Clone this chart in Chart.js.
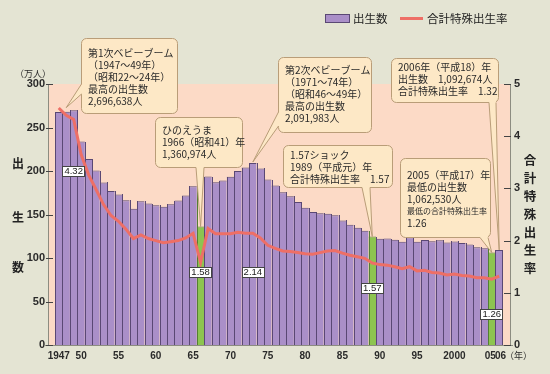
<!DOCTYPE html>
<html>
<head>
<meta charset="utf-8">
<script src="https://cdn.jsdelivr.net/npm/chart.js@4"></script>
<style>
  html, body { margin: 0; padding: 0; background: #e4e4d3; }
  #wrap { width: 550px; height: 374px; }
</style>
</head>
<body>
<div id="wrap"><canvas id="birthChart" width="550" height="374"></canvas></div>
<script>
// years 1947-2006
const years = [1947, 1948, 1949, 1950, 1951, 1952, 1953, 1954, 1955, 1956,
  1957, 1958, 1959, 1960, 1961, 1962, 1963, 1964, 1965, 1966,
  1967, 1968, 1969, 1970, 1971, 1972, 1973, 1974, 1975, 1976,
  1977, 1978, 1979, 1980, 1981, 1982, 1983, 1984, 1985, 1986,
  1987, 1988, 1989, 1990, 1991, 1992, 1993, 1994, 1995, 1996,
  1997, 1998, 1999, 2000, 2001, 2002, 2003, 2004, 2005, 2006];

// births (10,000 persons)
const births = [267.9, 268.2, 269.7, 233.8, 213.8, 200.5, 186.8, 177.0, 173.1, 166.5,
  156.7, 165.3, 162.6, 160.6, 158.9, 161.9, 166.0, 171.7, 182.4, 136.1,
  193.6, 187.2, 189.0, 193.4, 200.1, 203.9, 209.2, 203.0, 190.1, 183.3,
  175.5, 170.9, 164.3, 157.7, 152.9, 151.5, 150.9, 149.0, 143.2, 138.3,
  134.7, 131.4, 124.7, 122.2, 122.3, 120.9, 118.8, 123.8, 118.7, 120.7,
  119.2, 120.3, 117.8, 119.1, 117.1, 115.4, 112.4, 111.1, 106.3, 109.3];

// total fertility rate
const tfr = [4.54, 4.40, 4.32, 3.65, 3.26, 2.98, 2.69, 2.48, 2.37, 2.22,
  2.04, 2.11, 2.04, 2.00, 1.96, 1.98, 2.00, 2.05, 2.14, 1.58,
  2.23, 2.13, 2.13, 2.13, 2.16, 2.14, 2.14, 2.05, 1.91, 1.85,
  1.80, 1.79, 1.77, 1.75, 1.74, 1.77, 1.80, 1.81, 1.76, 1.72,
  1.69, 1.66, 1.57, 1.54, 1.53, 1.50, 1.46, 1.50, 1.42, 1.43,
  1.39, 1.38, 1.34, 1.36, 1.33, 1.32, 1.29, 1.29, 1.26, 1.32];

const highlightYears = [1966, 1989, 2005];

const tickYears = [1947, 1950, 1955, 1960, 1965, 1970, 1975, 1980, 1985, 1990, 1995, 2000, 2005, 2006];
const tickLabels = ['1947', '50', '55', '60', '65', '70', '75', '80', '85', '90', '95', '2000', '05 ', ' 06'];

// small value boxes: year, left-axis level where the box sits
const rateLabelYears = [1949, 1966, 1973, 1989, 2005];
const rateLabelLevels = [200, 84, 84, 66, 36];

const PURPLE = '#aa8fc8';
const PURPLE_EDGE = '#5a4874';
const GREEN = '#8dc450';
const GREEN_EDGE = '#547f33';
const RED = '#ee6f66';
const PINK = '#fcdac6';
const TEXT = '#2a2a2a';
const JP = '"Noto Sans CJK JP", sans-serif';
const NUM = '"Liberation Sans", Arial, sans-serif';

const callouts = [
  { box: [81, 38, 96, 75], side: 'left', base: [84, 94], year: 1948, lift: 4,
    lines: ['第1次ベビーブーム', '（1947～49年）', '（昭和22～24年）', '最高の出生数', '2,696,638人'], top: 53 },
  { box: [155, 117, 87, 50], side: 'bottom', base: [196, 204], year: 1966, lift: 0,
    lines: ['ひのえうま', '1966（昭和41）年', '1,360,974人'], top: 130 },
  { box: [278, 57, 93, 75], side: 'left', base: [112, 126], year: 1973, lift: 1,
    lines: ['第2次ベビーブーム', '（1971～74年）', '（昭和46～49年）', '最高の出生数', '2,091,983人'], top: 70 },
  { box: [283, 145, 109, 42], side: 'bottom', base: [362, 370], year: 1989, lift: 0,
    lines: ['1.57ショック', '1989（平成元）年', '合計特殊出生率　1.57'], top: 155 },
  { box: [391, 58, 107, 44], side: 'bottom', base: [489, 496], year: 2006, lift: 0,
    lines: ['2006年（平成18）年', '出生数　1,092,674人', '合計特殊出生率　1.32'], top: 67 },
  { box: [400, 158, 90, 79], side: 'bottom', base: [480, 488], year: 2005, lift: 0,
    lines: ['2005（平成17）年', '最低の出生数', '1,062,530人', '最低の合計特殊出生率', '1.26'], top: 175, small: 3 }
];

const barData = years.map((y, i) => ({ x: y, y: births[i] }));
const lineData = years.map((y, i) => ({ x: y, y: tfr[i] }));
const barColors = years.map(y => highlightYears.includes(y) ? GREEN : PURPLE);
const barEdges = years.map(y => highlightYears.includes(y) ? GREEN_EDGE : PURPLE_EDGE);

function drawCallout(ctx, c, tip) {
  const [bx, by, bw, bh] = c.box;
  ctx.save();
  ctx.fillStyle = '#fde8c6';
  ctx.strokeStyle = '#b99d78';
  ctx.lineWidth = 1;
  ctx.beginPath();
  ctx.roundRect(bx + 0.5, by + 0.5, bw, bh, 5);
  ctx.fill();
  ctx.stroke();

  let p1, p2, q1, q2;
  if (c.side === 'left') {
    p1 = [bx + 0.5, c.base[0]]; p2 = [bx + 0.5, c.base[1]];
    q1 = [bx + 3, c.base[0]]; q2 = [bx + 3, c.base[1]];
  } else {
    p1 = [c.base[0], by + bh + 0.5]; p2 = [c.base[1], by + bh + 0.5];
    q1 = [c.base[0], by + bh - 2]; q2 = [c.base[1], by + bh - 2];
  }
  ctx.beginPath();
  ctx.moveTo(q1[0], q1[1]);
  ctx.lineTo(p1[0], p1[1]);
  ctx.lineTo(tip[0], tip[1]);
  ctx.lineTo(p2[0], p2[1]);
  ctx.lineTo(q2[0], q2[1]);
  ctx.closePath();
  ctx.fill();
  ctx.beginPath();
  ctx.moveTo(p1[0], p1[1]);
  ctx.lineTo(tip[0], tip[1]);
  ctx.lineTo(p2[0], p2[1]);
  ctx.stroke();

  ctx.fillStyle = TEXT;
  ctx.textBaseline = 'middle';
  ctx.textAlign = 'left';
  c.lines.forEach((t, i) => {
    ctx.font = (c.small === i ? '8px ' : '10px ') + JP;
    ctx.fillText(t, bx + 7, c.top + i * 12);
  });
  ctx.restore();
}

const decorPlugin = {
  id: 'decor',
  beforeDraw(chart) {
    const { ctx, chartArea: a } = chart;
    ctx.save();
    ctx.fillStyle = PINK;
    ctx.fillRect(a.left, a.top, a.right - a.left, a.bottom - a.top);
    ctx.restore();
  },
  // crisp separators between the bars, drawn right after the bar dataset (below the line)
  afterDatasetDraw(chart, args) {
    if (args.index !== 1) return;
    const { ctx } = chart;
    const bars = args.meta.data;
    ctx.save();
    ctx.lineWidth = 1;
    bars.forEach((b, i) => {
      const left = Math.round(b.x - b.width / 2) + 0.5;
      const topL = Math.round(b.y);
      const prev = bars[i - 1];
      const topEdge = prev ? Math.min(topL, Math.round(prev.y)) : topL;
      ctx.strokeStyle = barEdges[i];
      ctx.beginPath();
      ctx.moveTo(left, topEdge);
      ctx.lineTo(left, Math.round(b.base));
      ctx.stroke();
      if (i === bars.length - 1) {
        const right = Math.round(b.x + b.width / 2) - 0.5;
        ctx.beginPath();
        ctx.moveTo(right, topL);
        ctx.lineTo(right, Math.round(b.base));
        ctx.stroke();
      }
    });
    ctx.restore();
  },
  afterDraw(chart) {
    const { ctx, chartArea: a, scales } = chart;
    const x = scales.x, yl = scales.y, yr = scales.y2;
    ctx.save();

    // axes with inward tick marks
    ctx.strokeStyle = '#8c8c80';
    ctx.lineWidth = 1;
    ctx.beginPath();
    ctx.moveTo(a.left + 0.5, a.top);
    ctx.lineTo(a.left + 0.5, a.bottom + 0.5);
    ctx.moveTo(a.right - 0.5, a.top);
    ctx.lineTo(a.right - 0.5, a.bottom + 0.5);
    ctx.moveTo(a.left - 4, a.bottom + 0.5);
    ctx.lineTo(a.right + 2, a.bottom + 0.5);
    ctx.stroke();
    ctx.strokeStyle = '#444';
    ctx.beginPath();
    yl.ticks.forEach(t => {
      const py = Math.round(yl.getPixelForValue(t.value)) + 0.5;
      ctx.moveTo(a.left - 2, py); ctx.lineTo(a.left + 5, py);
    });
    yr.ticks.forEach(t => {
      const py = Math.round(yr.getPixelForValue(t.value)) + 0.5;
      ctx.moveTo(a.right - 7, py); ctx.lineTo(a.right, py);
    });
    ctx.stroke();

    // axis titles
    ctx.fillStyle = '#222';
    ctx.textAlign = 'center';
    ctx.textBaseline = 'middle';
    ctx.font = 'bold 12px ' + JP;
    [['出', 163], ['生', 217], ['数', 267]].forEach(([ch, py]) => ctx.fillText(ch, 18, py));
    ctx.font = 'bold 12.5px ' + JP;
    '合計特殊出生率'.split('').forEach((ch, i) => ctx.fillText(ch, 530, 160 + i * 18));
    ctx.font = '9px ' + JP;
    ctx.fillStyle = TEXT;
    ctx.fillText('（万人）', 33, 74);
    ctx.textAlign = 'left';
    ctx.fillText('（年）', 505, 356);

    // legend
    ctx.fillStyle = PURPLE;
    ctx.strokeStyle = PURPLE_EDGE;
    ctx.fillRect(325.5, 14.5, 24, 8);
    ctx.strokeRect(325.5, 14.5, 24, 8);
    ctx.strokeStyle = RED;
    ctx.lineWidth = 3;
    ctx.beginPath();
    ctx.moveTo(400, 18.5); ctx.lineTo(423, 18.5);
    ctx.stroke();
    ctx.fillStyle = '#222';
    ctx.font = '11.5px ' + JP;
    ctx.textBaseline = 'middle';
    ctx.fillText('出生数', 353, 19);
    ctx.fillText('合計特殊出生率', 427, 19);

    // rate value boxes
    ctx.lineWidth = 1;
    ctx.font = '9.5px ' + NUM;
    ctx.textAlign = 'center';
    rateLabelYears.forEach((yr0, i) => {
      const idx = years.indexOf(yr0);
      const txt = tfr[idx].toFixed(2);
      const cx = x.getPixelForValue(yr0);
      const cy = yl.getPixelForValue(rateLabelLevels[i]);
      const w = ctx.measureText(txt).width + 4;
      ctx.fillStyle = '#fff';
      ctx.strokeStyle = '#444';
      ctx.fillRect(Math.round(cx - w / 2) + 0.5, Math.round(cy - 5) + 0.5, Math.round(w), 10);
      ctx.strokeRect(Math.round(cx - w / 2) + 0.5, Math.round(cy - 5) + 0.5, Math.round(w), 10);
      ctx.fillStyle = '#222';
      ctx.fillText(txt, cx, cy + 0.5);
    });

    // callouts
    callouts.forEach(c => {
      const idx = years.indexOf(c.year);
      const tip = [x.getPixelForValue(c.year), yl.getPixelForValue(births[idx]) - c.lift];
      drawCallout(ctx, c, tip);
    });
    ctx.restore();
  }
};

const axisFont = { family: NUM, size: 11, weight: 'bold' };

new Chart(document.getElementById('birthChart'), {
  type: 'bar',
  data: {
    datasets: [
      {
        type: 'line',
        label: '合計特殊出生率',
        data: lineData,
        yAxisID: 'y2',
        borderColor: RED,
        borderWidth: 3,
        pointRadius: 0,
        tension: 0,
        order: 0
      },
      {
        type: 'bar',
        label: '出生数',
        data: barData,
        yAxisID: 'y',
        backgroundColor: barColors,
        borderColor: barEdges,
        borderWidth: { top: 1, left: 0, right: 0, bottom: 0 },
        borderSkipped: 'bottom',
        inflateAmount: 0,
        barPercentage: 1,
        categoryPercentage: 1,
        order: 1
      }
    ]
  },
  options: {
    responsive: false,
    animation: false,
    devicePixelRatio: 1,
    layout: { padding: { top: 84, left: 0, right: 0, bottom: 0 } },
    plugins: { legend: { display: false }, tooltip: { enabled: false } },
    scales: {
      x: {
        type: 'linear',
        offset: false,
        min: 1945.56,
        max: 2007.58,
        grid: { display: false, drawTicks: false },
        border: { display: false },
        afterBuildTicks: s => { s.ticks = tickYears.map(v => ({ value: v })); },
        afterFit: s => { s.height = 29; },
        ticks: {
          autoSkip: false,
          maxRotation: 0,
          padding: 5,
          color: TEXT,
          font: { family: NUM, size: 10, weight: 'bold' },
          callback: (v, i) => tickLabels[i]
        }
      },
      y: {
        position: 'left',
        min: 0,
        max: 300,
        grid: { display: false, drawTicks: false },
        border: { display: false },
        afterFit: s => { s.width = 48; },
        ticks: { stepSize: 50, padding: 3, color: TEXT, font: axisFont }
      },
      y2: {
        position: 'right',
        min: 0,
        max: 5,
        grid: { display: false, drawTicks: false },
        border: { display: false },
        afterFit: s => { s.width = 39; },
        ticks: { stepSize: 1, padding: 3, color: TEXT, font: axisFont }
      }
    }
  },
  plugins: [decorPlugin]
});
</script>
</body>
</html>
